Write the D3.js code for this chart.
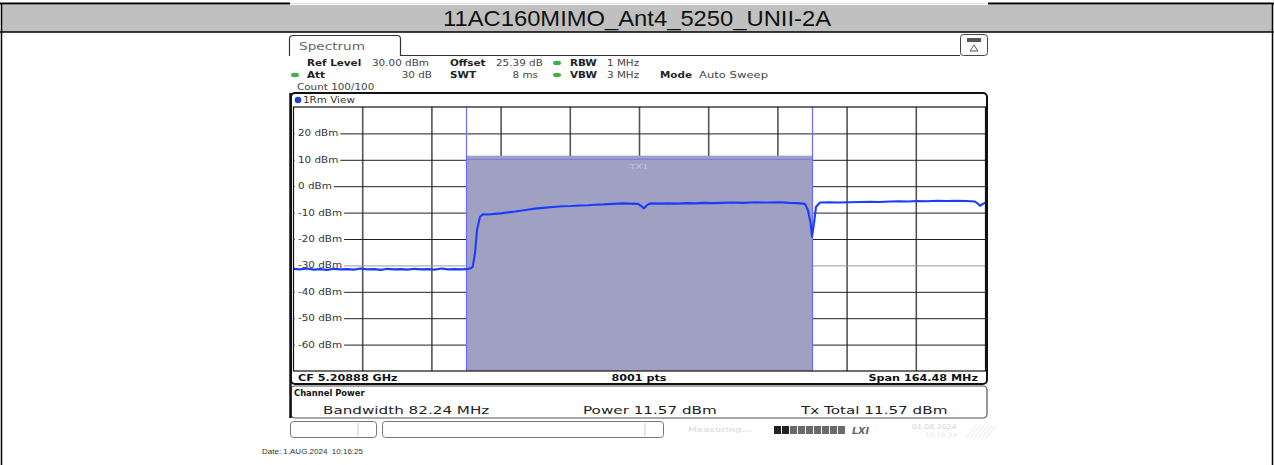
<!DOCTYPE html>
<html>
<head>
<meta charset="utf-8">
<script src="https://cdn.jsdelivr.net/npm/d3@7"></script>
<style>
  body { margin: 0; background: #fff; }
  svg { display: block; }
</style>
</head>
<body>
<script>
const W = 1274, H = 465;

// instrument settings
const title = '11AC160MIMO_Ant4_5250_UNII-2A';
const centerMHz = 5208.88;
const spanMHz = 164.48;
const chanBwMHz = 82.24;
const chanPowerDbm = 11.57;
const refLevel = 30;
const yTicks = [20, 10, 0, -10, -20, -30, -40, -50, -60];

// trace (MHz, dBm)
const traceMHz = [
  5126.6, 5128.2, 5129.8, 5131.4, 5133.0, 5134.6, 5136.2, 5137.8, 5139.4, 5141.0,
  5142.6, 5144.2, 5145.8, 5147.4, 5149.0, 5150.6, 5152.2, 5153.8, 5155.4, 5157.0,
  5158.6, 5160.2, 5161.8, 5163.4, 5165.0, 5166.6, 5168.2, 5168.9,
  5169.23, 5169.78, 5170.26, 5170.97, 5171.68,
  5173.0, 5174.5, 5176.0, 5177.6, 5179.3, 5181.0, 5182.6, 5184.0, 5186.0, 5188.2,
  5190.5, 5192.6, 5194.8, 5196.6, 5198.3, 5200.4, 5202.5, 5204.7, 5206.6, 5208.5,
  5209.3, 5209.95, 5210.6, 5211.4, 5213.6, 5215.8, 5218.0, 5220.2, 5222.2, 5224.2,
  5226.1, 5228.6, 5231.0, 5233.5, 5236.4, 5239.3, 5242.3, 5244.4, 5246.5, 5248.2,
  5248.9, 5249.57, 5249.88, 5250.36, 5250.83, 5251.8, 5254.0, 5256.4, 5258.9, 5261.3,
  5263.7, 5266.0, 5268.4, 5270.5, 5272.7, 5274.8, 5277.2, 5279.6, 5282.0, 5284.4,
  5286.5, 5288.6, 5289.3, 5289.8, 5290.4, 5291.1
];
const traceDbm = [
  -31.3, -31.5, -31.2, -31.6, -31.4, -31.7, -31.3, -31.5, -31.4, -31.6,
  -31.2, -31.5, -31.4, -31.7, -31.3, -31.5, -31.4, -31.6, -31.3, -31.5,
  -31.4, -31.6, -31.2, -31.5, -31.4, -31.5, -31.3, -31.0,
  -30.5, -25.3, -16.6, -11.6, -10.6,
  -10.7, -10.5, -10.3, -9.9, -9.6, -9.2, -8.8, -8.5, -8.2, -7.9,
  -7.6, -7.5, -7.3, -7.2, -7.0, -6.9, -6.7, -6.5, -6.6, -6.7,
  -7.5, -8.4, -7.3, -6.5, -6.6, -6.5, -6.6, -6.4, -6.5, -6.3,
  -6.4, -6.3, -6.2, -6.3, -6.1, -6.2, -6.1, -6.3, -6.4, -6.7,
  -9.0, -14.1, -19.1, -14.1, -7.8, -6.2, -6.1, -6.2, -6.1, -6.0,
  -5.9, -6.0, -5.8, -5.7, -5.8, -5.6, -5.7, -5.5, -5.6, -5.5,
  -5.6, -5.8, -6.6, -7.4, -6.8, -6.2
];

const svg = d3.select('body').append('svg')
  .attr('width', W)
  .attr('height', H);

// instrument screen font is stretched horizontally
const SX = 1.3;
function txt(g, x, y, s, o = {}) {
  return g.append('text')
    .attr('transform', `translate(${ x },${ y }) scale(${ o.sx || SX },1)`)
    .attr('font-family', 'DejaVu Sans')
    .attr('font-size', o.size || 8)
    .attr('font-weight', o.bold ? 'bold' : 'normal')
    .attr('fill', o.fill || '#222')
    .attr('text-anchor', o.anchor || 'start')
    .text(s);
}

// ---- outer table / title ----
svg.append('rect').attr('x', 1).attr('y', 5).attr('width', 1271).attr('height', 27).attr('fill', '#c0c0c0');
svg.append('line').attr('x1', 0).attr('x2', 290).attr('y1', 3.5).attr('y2', 3.5).attr('stroke', '#000').attr('stroke-width', 2);
svg.append('line').attr('x1', 988).attr('x2', W).attr('y1', 3.5).attr('y2', 3.5).attr('stroke', '#000').attr('stroke-width', 2);
svg.append('line').attr('x1', 290).attr('x2', 988).attr('y1', 3.5).attr('y2', 3.5).attr('stroke', '#ddd').attr('stroke-width', 1);
svg.append('line').attr('x1', 0).attr('x2', W).attr('y1', 32).attr('y2', 32).attr('stroke', '#000').attr('stroke-width', 1.5);
svg.append('line').attr('x1', 1.5).attr('x2', 1.5).attr('y1', 3).attr('y2', H).attr('stroke', '#000').attr('stroke-width', 1.5);
svg.append('line').attr('x1', 1272.5).attr('x2', 1272.5).attr('y1', 3).attr('y2', H).attr('stroke', '#000').attr('stroke-width', 1.5);
svg.append('text')
  .attr('x', 637).attr('y', 26)
  .attr('text-anchor', 'middle')
  .attr('font-family', 'Liberation Sans, Arial')
  .attr('font-size', 22)
  .attr('textLength', 388)
  .attr('lengthAdjust', 'spacingAndGlyphs')
  .attr('fill', '#111')
  .text(title);

// ---- instrument screen ----
const scr = svg.append('g');

// tab
scr.append('path')
  .attr('d', 'M289.5,56 L289.5,39 Q289.5,35.5 293,35.5 L397,35.5 Q400.5,35.5 400.5,39 L400.5,55.5 L960,55.5')
  .attr('fill', 'none').attr('stroke', '#333').attr('stroke-width', 1.2);
txt(scr, 299, 50, 'Spectrum', { size: 10.5, fill: '#666', sx: 1.3 });
// top-right icon
scr.append('rect').attr('x', 960.5).attr('y', 34.5).attr('width', 27).attr('height', 21).attr('rx', 3)
  .attr('fill', '#fff').attr('stroke', '#444');
scr.append('rect').attr('x', 967).attr('y', 38).attr('width', 14).attr('height', 4).attr('fill', '#555');
scr.append('path').attr('d', 'M974,45 L978,51 L970,51 Z').attr('fill', 'none').attr('stroke', '#555');

// header settings
const dot = (x, y, c) => scr.append('ellipse').attr('cx', x).attr('cy', y).attr('rx', 4).attr('ry', 2.2).attr('fill', c);
txt(scr, 307, 66, 'Ref Level', { bold: true });
txt(scr, 372, 66, '30.00 dBm', { fill: '#444' });
txt(scr, 450, 66, 'Offset', { bold: true });
txt(scr, 496, 66, '25.39 dB', { fill: '#444' });
dot(557, 63, '#3cb34a');
txt(scr, 570, 66, 'RBW', { bold: true });
txt(scr, 607, 66, '1 MHz', { fill: '#444' });

dot(295, 75, '#3cb34a');
txt(scr, 307, 78, 'Att', { bold: true });
txt(scr, 432, 78, '30 dB', { fill: '#444', anchor: 'end' });
txt(scr, 450, 78, 'SWT', { bold: true });
txt(scr, 538, 78, '8 ms', { fill: '#444', anchor: 'end' });
dot(557, 75, '#3cb34a');
txt(scr, 570, 78, 'VBW', { bold: true });
txt(scr, 607, 78, '3 MHz', { fill: '#444' });
txt(scr, 660, 78, 'Mode', { bold: true });
txt(scr, 699, 78, 'Auto Sweep', { fill: '#444', sx: 1.45 });
txt(scr, 297, 90, 'Count 100/100', { fill: '#444' });

// ---- diagram ----
const gx0 = 293.5, gx1 = 985.5, gy0 = 107, gy1 = 371;
const x = d3.scaleLinear().domain([centerMHz - spanMHz / 2, centerMHz + spanMHz / 2]).range([gx0, gx1]);
const y = d3.scaleLinear().domain([refLevel - 100, refLevel]).range([gy1, gy0]);

// frame
scr.append('rect').attr('x', 291).attr('y', 93).attr('width', 696).attr('height', 291).attr('rx', 4)
  .attr('fill', '#fff').attr('stroke', '#111').attr('stroke-width', 2);
scr.append('circle').attr('cx', 298).attr('cy', 100).attr('r', 3.3).attr('fill', '#2040d0');
txt(scr, 303, 103, '1Rm View', { fill: '#333' });

// channel power bar
const cx0 = x(centerMHz - chanBwMHz / 2), cx1 = x(centerMHz + chanBwMHz / 2);
const barTop = y(chanPowerDbm);

// grid
const vTicks = d3.range(1, 10).map(i => x.domain()[0] + i * spanMHz / 10);
scr.append('g').selectAll('line').data(vTicks).join('line')
  .attr('x1', d => x(d)).attr('x2', d => x(d))
  .attr('y1', gy0).attr('y2', gy1)
  .attr('stroke', '#555')
  .attr('stroke-width', 1.6);

const hg = scr.append('g');
yTicks.forEach(v => {
  hg.append('line')
    .attr('x1', gx0).attr('x2', gx1).attr('y1', y(v) + 0.5).attr('y2', y(v) + 0.5)
    .attr('stroke', v === -30 ? '#9a9a9a' : '#222').attr('stroke-width', 1);
});
// bar covers the grid below its top (10 dBm line shows through)
scr.append('rect')
  .attr('x', cx0).attr('y', barTop)
  .attr('width', cx1 - cx0).attr('height', gy1 - barTop)
  .attr('fill', '#a0a0c2');
scr.append('line')
  .attr('x1', cx0).attr('x2', cx1).attr('y1', y(10) - 0.5).attr('y2', y(10) - 0.5)
  .attr('stroke', '#7878e0').attr('stroke-width', 1);

// y labels with white background
yTicks.forEach(v => {
  const t = txt(scr, 298, y(v) + 3, `${ v } dBm`, { fill: '#333' });
  const bb = t.node().getBBox();
  scr.insert('rect', () => t.node())
    .attr('x', gx0 + 1).attr('y', y(v) - 4)
    .attr('width', 298 - gx0 + bb.width * SX + 1).attr('height', 8)
    .attr('fill', '#fff');
});

// channel limit lines
scr.selectAll('.lim').data([cx0, cx1]).join('line')
  .attr('x1', d => d).attr('x2', d => d).attr('y1', gy0).attr('y2', gy1)
  .attr('stroke', '#6a6aff').attr('stroke-width', 1.2);

txt(scr, 639, 169, 'TX1', { fill: '#c4c4d8', anchor: 'middle', size: 7.5 });

// trace
const pts = traceMHz.map((f, i) => [f, traceDbm[i]]);
scr.append('path')
  .datum(pts)
  .attr('d', d3.line().x(d => x(d[0])).y(d => y(d[1])))
  .attr('fill', 'none')
  .attr('stroke', '#1a3cff')
  .attr('stroke-width', 2.1)
  .attr('stroke-linejoin', 'round');

// grid border
scr.append('rect').attr('x', gx0).attr('y', gy0).attr('width', gx1 - gx0).attr('height', gy1 - gy0)
  .attr('fill', 'none').attr('stroke', '#111').attr('stroke-width', 1.2);

// footer row
txt(scr, 298, 381, 'CF 5.20888 GHz', { bold: true, fill: '#111', sx: 1.4 });
txt(scr, 639, 381, '8001 pts', { bold: true, fill: '#111', anchor: 'middle', sx: 1.4 });
txt(scr, 978, 381, 'Span 164.48 MHz', { bold: true, fill: '#111', anchor: 'end', sx: 1.4 });

// channel power result box
scr.append('rect').attr('x', 291).attr('y', 386).attr('width', 696).attr('height', 32).attr('rx', 4)
  .attr('fill', '#fff').attr('stroke', '#555').attr('stroke-width', 1.2);
scr.append('line').attr('x1', 290.5).attr('x2', 290.5).attr('y1', 93).attr('y2', 418).attr('stroke', '#111').attr('stroke-width', 2.5);
txt(scr, 294, 396, 'Channel Power', { bold: true, fill: '#111', size: 8, sx: 1.05 });
txt(scr, 323, 414, 'Bandwidth 82.24 MHz', { fill: '#222', size: 11, sx: 1.38 });
txt(scr, 583, 414, 'Power 11.57 dBm', { fill: '#222', size: 11, sx: 1.38 });
txt(scr, 801, 414, 'Tx Total 11.57 dBm', { fill: '#222', size: 11, sx: 1.38 });

// status bar
scr.append('rect').attr('x', 290.5).attr('y', 421.5).attr('width', 86).attr('height', 16).attr('rx', 3)
  .attr('fill', '#fff').attr('stroke', '#777');
scr.append('line').attr('x1', 358).attr('x2', 358).attr('y1', 423).attr('y2', 436).attr('stroke', '#ccc');
scr.append('rect').attr('x', 382.5).attr('y', 421.5).attr('width', 281).attr('height', 16).attr('rx', 3)
  .attr('fill', '#fff').attr('stroke', '#777');
scr.append('line').attr('x1', 645).attr('x2', 645).attr('y1', 423).attr('y2', 436).attr('stroke', '#ccc');
txt(scr, 688, 432, 'Measuring...', { fill: '#e4e4e4', bold: true, size: 7 });
scr.append('g').selectAll('rect').data(d3.range(9)).join('rect')
  .attr('x', i => 774 + i * 8).attr('y', 426).attr('width', 7).attr('height', 8)
  .attr('fill', i => i < 2 ? '#222' : '#6a6a6a');
txt(scr, 852, 434, 'LXI', { fill: '#666', bold: true, size: 8, sx: 1.2 }).attr('font-style', 'italic');
txt(scr, 912, 429, '01.08.2024', { fill: '#d4d4d4', size: 6.5, sx: 1.2 });
txt(scr, 925, 437, '10:16:24', { fill: '#e6e6e6', size: 6, sx: 1.2 });
scr.append('g').selectAll('line').data(d3.range(6)).join('line')
  .attr('x1', i => 966 + i * 4).attr('x2', i => 976 + i * 4).attr('y1', 438).attr('y2', 426)
  .attr('stroke', '#e8e8e8');

// date stamp
svg.append('text')
  .attr('x', 262).attr('y', 454)
  .attr('font-family', 'Liberation Sans, Arial')
  .attr('font-size', 8)
  .attr('fill', '#333')
  .attr('xml:space', 'preserve')
  .text('Date: 1.AUG.2024  10:16:25');
</script>
</body>
</html>
